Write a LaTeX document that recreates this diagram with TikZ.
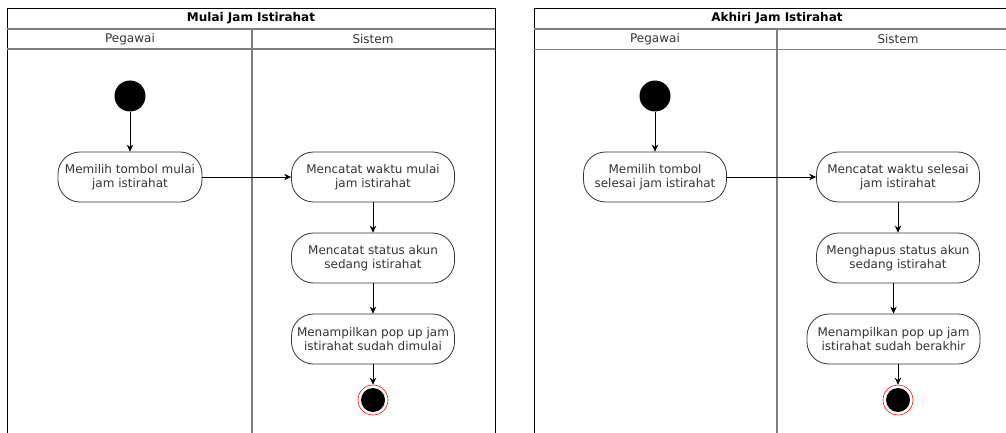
\documentclass[tikz,border=0pt]{standalone}
\usepackage{fontspec}
\setmainfont{DejaVu Sans}
\usepackage{tikz}
\usetikzlibrary{arrows.meta}
\definecolor{garis}{HTML}{333333}
\definecolor{lajur}{HTML}{7F7F7F}

\begin{document}
\begin{tikzpicture}[x=1pt, y=1pt, node distance=81pt, >={Stealth[length=7pt, width=6.5pt]},
		teks/.style={font=\fontsize{12}{14}\selectfont, text=garis},
		judul/.style={font=\bfseries\fontsize{12}{14}\selectfont},
		aktivitas/.style={draw=garis, line width=0.8pt, teks, rounded corners=22pt, minimum width=163pt, minimum height=50pt, align=center, inner xsep=2pt},
		awal/.style={circle, fill=black, minimum size=31pt, inner sep=0pt},
		akhir/.style={circle, draw=red, fill=white, line width=0.6pt, minimum size=30pt, inner sep=0pt,
			path picture={\fill[black] (path picture bounding box.center) circle (12pt);}},
		kolam/.style={draw=black, line width=0.8pt},
		batas/.style={draw=lajur, line width=1.2pt},
		panah/.style={->, line width=0.8pt}]
		\useasboundingbox (0,0) rectangle (1006,-433);
		\clip (0,0) rectangle (1006,-433);
		
		% Kolam kiri
		\draw[kolam] (7,-460) -- (7,-8) -- (495,-8) -- (495,-460);
		\draw[batas] (7,-29) -- (495,-29);
		\draw[batas] (7,-49) -- (495,-49);
		\draw[batas] (252,-29) -- (252,-460);
		\node[judul] (judulM) at (251,-18.5) {Mulai Jam Istirahat};
		\node[teks] (pegawaiM) at (130,-39) {Pegawai};
		\node[teks] (sistemM) at (373,-39) {Sistem};
		
		% Kolam kanan
		\draw[kolam] (534,-460) -- (534,-8.5) -- (1020,-8.5) -- (1020,-460);
		\draw[batas] (534,-29) -- (1020,-29);
		\draw[batas] (534,-49.5) -- (1020,-49.5);
		\draw[batas] (777,-29) -- (777,-460);
		\node[judul] (judulA) at (777,-18.5) {Akhiri Jam Istirahat};
		\node[teks] (pegawaiA) at (655,-39) {Pegawai};
		\node[teks] (sistemA) at (898,-39) {Sistem};
		
		% Mulai jam istirahat
		\node[awal] (m0) at (130,-96) {};
		\node[aktivitas, minimum width=144pt, below of=m0] (m1) {Memilih tombol mulai\\jam istirahat};
		\node[aktivitas, node distance=243pt, right of=m1] (m2) {Mencatat waktu mulai\\jam istirahat};
		\node[aktivitas, below of=m2] (m3) {Mencatat status akun\\sedang istirahat};
		\node[aktivitas, below of=m3] (m4) {Menampilkan pop up jam\\istirahat sudah dimulai};
		\node[akhir, node distance=61pt, below of=m4] (m5) {};
		
		% Akhiri jam istirahat
		\node[awal] (a0) at (655,-96) {};
		\node[aktivitas, minimum width=143pt, below of=a0] (a1) {Memilih tombol\\selesai jam istirahat};
		\node[aktivitas, node distance=243pt, right of=a1] (a2) {Mencatat waktu selesai\\jam istirahat};
		\node[aktivitas, below of=a2] (a3) {Menghapus status akun\\sedang istirahat};
		\node[aktivitas, minimum width=173pt, below of=a3, xshift=-4.5pt] (a4) {Menampilkan pop up jam\\istirahat sudah berakhir};
		\node[akhir, node distance=61pt, below of=a4, xshift=4.5pt] (a5) {};
		
		% Alur
		\draw[panah] (m0) -- (m1);
		\draw[panah] (m1) -- (m2);
		\draw[panah] (m2) -- (m3);
		\draw[panah] (m3) -- (m4);
		\draw[panah] (m4) -- (m5);
		
		\draw[panah] (a0) -- (a1);
		\draw[panah] (a1) -- (a2);
		\draw[panah] (a2) -- (a3);
		\draw[panah] (a3.south -| a4) -- (a4);
		\draw[panah] (a4.south -| a5) -- (a5);
	\end{tikzpicture}
\end{document}
